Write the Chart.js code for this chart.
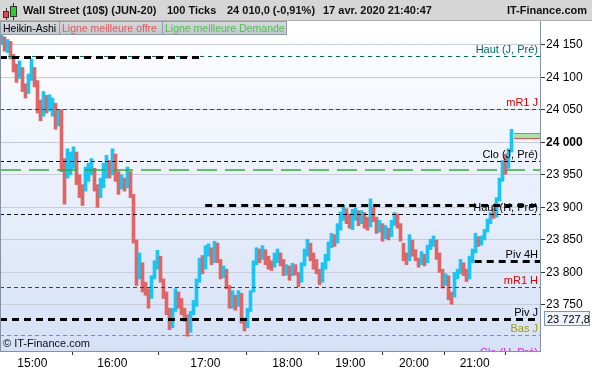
<!DOCTYPE html>
<html><head><meta charset="utf-8">
<script src="https://cdn.jsdelivr.net/npm/chart.js@4.4.1/dist/chart.umd.min.js"></script>
<style>
html,body{margin:0;padding:0;background:#fff;}
#wrap{position:relative;width:592px;height:370px;overflow:hidden;font-family:"Liberation Sans",Arial,sans-serif;}
#c{position:absolute;left:0;top:0;}
#hdr{position:absolute;left:0;top:0;width:592px;height:21px;background:#d6d6d6;border-bottom:1px solid #b4b4b4;box-sizing:border-box;font-weight:bold;font-size:11px;color:#111;}
#hdr span{position:absolute;top:4px;white-space:nowrap;line-height:13px;}
.leg{position:absolute;top:21px;height:14px;box-sizing:border-box;border:1px solid #8e9cab;background:linear-gradient(#d3d7db,#c3c8ce);font-size:10.5px;line-height:12px;padding-left:2px;white-space:nowrap;overflow:hidden;}
.cd{position:absolute;box-sizing:border-box;border:1px solid #333;}
.wk{position:absolute;width:1px;background:#333;}
#copy{position:absolute;left:3px;top:337px;font-size:11px;line-height:13px;color:#111;white-space:nowrap;}
</style></head>
<body>
<div id="wrap">
<canvas id="c" width="592" height="370"></canvas>
<div id="hdr">
  <div class="wk" style="left:6px;top:8px;height:12px"></div>
  <div class="cd" style="left:3px;top:11px;width:6px;height:7px;background:#e84848"></div>
  <div class="wk" style="left:13px;top:3px;height:17px"></div>
  <div class="cd" style="left:10px;top:6px;width:7px;height:11px;background:#2ed02e"></div>
  <span style="left:23px">Wall Street (10$) (JUN-20)</span>
  <span style="left:167px">100 Ticks</span>
  <span style="left:227px">24 010,0 (-0,91%)</span>
  <span style="left:323px">17 avr. 2020 21:40:47</span>
  <span style="right:5px">IT-Finance.com</span>
</div>
<div class="leg" style="left:0;width:60px;color:#000">Heikin-Ashi</div>
<div class="leg" style="left:59px;width:104px;color:#e05a5a">Ligne meilleure offre</div>
<div class="leg" style="left:162px;width:125px;color:#4cc44c">Ligne meilleure Demande</div>
<div id="copy">© IT-Finance.com</div>
</div>
<script>
// ---- data ----
const candleOpen = [
 24150,24162,24138,24155,24135,24120,24098,24115,24090,24075,
 24095,24115,24095,24065,24040,24072,24048,24040,24060,24025,
 24050,23975,23945,23950,23960,23985,23950,23935,23925,23940,
 23950,23960,23935,23915,23930,23945,23972,23950,23982,23955,
 23928,23945,23930,23955,23920,23850,23790,23815,23785,23775,
 23760,23790,23805,23825,23790,23770,23745,23715,23740,23770,
 23760,23745,23735,23708,23735,23748,23785,23826,23805,23825,
 23838,23815,23845,23820,23792,23805,23780,23745,23765,23748,
 23768,23730,23715,23740,23770,23812,23836,23820,23835,23825,
 23818,23808,23815,23830,23820,23796,23810,23795,23812,23800,
 23785,23810,23825,23845,23830,23820,23805,23785,23805,23818,
 23838,23858,23845,23865,23880,23898,23890,23866,23880,23895,
 23875,23892,23885,23870,23900,23885,23862,23875,23852,23868,
 23855,23872,23890,23875,23845,23830,23818,23850,23835,23822,
 23812,23828,23815,23835,23840,23850,23830,23805,23780,23795,
 23770,23762,23790,23798,23815,23805,23790,23815,23830,23855,
 23842,23850,23862,23875,23898,23885,23910,23940,23982,23960,23985];
const candleClose = [
 24165,24140,24158,24128,24108,24092,24125,24078,24068,24105,
 24128,24085,24045,24033,24078,24045,24073,24068,24020,24050,
 23955,23905,23990,23985,23993,23935,23915,23903,23962,23968,
 23975,23925,23900,23945,23968,23980,23945,23990,23940,23920,
 23950,23925,23962,23915,23845,23780,23830,23770,23765,23745,
 23795,23818,23834,23785,23760,23735,23712,23745,23775,23745,
 23735,23725,23702,23740,23757,23790,23822,23798,23841,23844,
 23812,23848,23815,23790,23810,23775,23745,23772,23742,23772,
 23722,23710,23745,23772,23818,23838,23815,23841,23812,23805,
 23803,23830,23836,23810,23795,23812,23788,23814,23796,23778,
 23815,23836,23851,23818,23805,23798,23781,23815,23828,23847,
 23860,23840,23875,23893,23903,23875,23868,23897,23899,23872,
 23895,23868,23865,23913,23878,23860,23880,23848,23872,23850,
 23880,23892,23868,23848,23818,23812,23858,23825,23818,23808,
 23832,23810,23842,23851,23856,23820,23800,23776,23798,23758,
 23751,23800,23805,23820,23795,23786,23825,23836,23860,23840,
 23856,23866,23882,23892,23883,23915,23945,23972,23951,23990,24020];
const hourTickIndex = [10.77, 37.43, 68.43, 95.77, 116.77, 138.0, 158.23];
const hourTickLabels = ['15:00','16:00','17:00','18:00','19:00','20:00','21:00'];
const priceTicks = [23750,23800,23850,23900,23950,24000,24050,24100,24150];
const levelNames  = ['Haut (J, Pré)','mR1 J','Clo (J, Pré)','Haut (H, Pré)','Piv 4H','mR1 H','Piv J','Bas J','Clo (H, Pré)'];
const levelValues = [24132.6, 24050.7, 23970.8, 23889.8, 23817.6, 23777.7, 23727.8, 23703.9, 23667];
const levelStartIndex = [0, 0, 0, 0, 158.23, 0, 0, 0, 0];
const pivHValues = [24130.6, 23903.2];
const pivHStartIndex = [0, 68.4];
const pivHEndIndex = [66.7, 180];
const demandLevel = 23957;
const bestOffer = 24006;
const bestDemand = 24013.8;
const markedValue = 23727.8;
const Y_MIN = 23679.3, Y_MAX = 24186.4, X_MAX = 180;

// ---- styles ----
const FONT = '"Liberation Sans", Arial, sans-serif';
const UP = '#17c6f4', DOWN = '#e06666';
const LEVEL_STYLE = {
  'Haut (J, Pré)': {c:'#00706c', w:1, d:[4,4], t:'#006a66'},
  'mR1 J':         {c:'#e00000', w:1, d:[4,3], t:'#e00000'},
  'Clo (J, Pré)':  {c:'#000000', w:1, d:[4,3], t:'#000000'},
  'Haut (H, Pré)': {c:'#000000', w:1, d:[4,3], t:'#000000'},
  'Piv 4H':        {c:'#000000', w:3, d:[7,5], t:'#000000'},
  'mR1 H':         {c:'#e00000', w:1, d:[4,3], t:'#e00000'},
  'Piv J':         {c:'#000000', w:3, d:[7,5], t:'#000000'},
  'Bas J':         {c:'#a09c10', w:1, d:[4,3], t:'#a09c10'},
  'Clo (H, Pré)':  {c:'#e020e0', w:1, d:[4,3], t:'#e020e0'}
};
const PIVH_STYLE = {c:'#000000', w:3, d:[7,5]};
const DEMAND_STYLE = {c:'#2fb02f', w:1.5, d:[20,8], o:-1};

const fmt = v => { const s = Math.round(v).toString(); return s.slice(0, s.length-3) + ' ' + s.slice(-3); };

const bgPlugin = {
  id:'bg',
  beforeDraw(chart){
    const {ctx, chartArea:a} = chart;
    ctx.save();
    ctx.fillStyle = '#ffffff';
    ctx.fillRect(0,0,chart.width,chart.height);
    const g = ctx.createLinearGradient(0,a.top,0,a.bottom);
    g.addColorStop(0,'#ffffff');
    g.addColorStop(1,'#d5e1f7');
    ctx.fillStyle = g;
    ctx.fillRect(a.left,a.top,a.right-a.left,a.bottom-a.top);
    ctx.restore();
  }
};

const levelPlugin = {
  id:'levels',
  afterDatasetsDraw(chart){
    const {ctx, chartArea:a, scales:{x,y}} = chart;
    ctx.save();
    ctx.beginPath(); ctx.rect(a.left,a.top,a.right-a.left,a.bottom-a.top); ctx.clip();
    const line = (v,x0,x1,st) => {
      const py = Math.round(y.getPixelForValue(v)) + ((st.w % 2 === 1) ? 0.5 : 0);
      ctx.strokeStyle = st.c; ctx.lineWidth = st.w; ctx.setLineDash(st.d); ctx.lineDashOffset = st.o || 0;
      ctx.beginPath(); ctx.moveTo(x0,py); ctx.lineTo(x1,py); ctx.stroke();
      return py;
    };
    levelNames.forEach((n,i) => {
      const st = LEVEL_STYLE[n];
      line(levelValues[i], x.getPixelForValue(levelStartIndex[i]), a.right, st);
    });
    pivHValues.forEach((v,i) => line(v, x.getPixelForValue(pivHStartIndex[i]), x.getPixelForValue(pivHEndIndex[i]), PIVH_STYLE));
    line(demandLevel, a.left, a.right, DEMAND_STYLE);
    // best bid / offer box
    ctx.setLineDash([]);
    const bx = x.getPixelForValue(candleOpen.length) + 1;
    const yt = Math.round(y.getPixelForValue(bestDemand));
    const yb = Math.round(y.getPixelForValue(bestOffer));
    ctx.fillStyle = '#a6e4a6'; ctx.fillRect(bx, yt, a.right-bx, yb-yt);
    ctx.strokeStyle = '#48c048'; ctx.lineWidth = 1;
    ctx.beginPath(); ctx.moveTo(bx,yt+0.5); ctx.lineTo(a.right,yt+0.5); ctx.stroke();
    ctx.strokeStyle = '#e05050';
    ctx.beginPath(); ctx.moveTo(bx,yb+0.5); ctx.lineTo(a.right,yb+0.5); ctx.stroke();
    // labels
    ctx.font = '11px ' + FONT;
    ctx.textAlign = 'right'; ctx.textBaseline = 'alphabetic';
    levelNames.forEach((n,i) => {
      const py = y.getPixelForValue(levelValues[i]);
      ctx.fillStyle = LEVEL_STYLE[n].t;
      ctx.fillText(n, a.right - 2, py - 3);
    });
    ctx.restore();
    ctx.save();
    ctx.strokeStyle = '#8393a3'; ctx.lineWidth = 1;
    ctx.beginPath(); ctx.moveTo(a.left+0.5,a.top); ctx.lineTo(a.left+0.5,a.bottom); ctx.stroke();
    ctx.restore();
  },
  afterDraw(chart){
    const {ctx, scales:{y}, chartArea:a} = chart;
    const py = Math.round(y.getPixelForValue(markedValue));
    ctx.save();
    ctx.fillStyle = '#eef2fb'; ctx.strokeStyle = '#7f96ae'; ctx.lineWidth = 1;
    ctx.fillRect(a.right+4.5, py-7.5, 45, 14);
    ctx.strokeRect(a.right+4.5, py-7.5, 45, 14);
    ctx.fillStyle = '#000'; ctx.font = '11px ' + FONT;
    ctx.textAlign = 'left'; ctx.textBaseline = 'middle';
    ctx.fillText(fmt(Math.floor(markedValue)) + ',' + Math.round((markedValue % 1) * 10), a.right + 7, py + 0.5);
    ctx.restore();
  }
};

new Chart(document.getElementById('c'), {
  type:'bar',
  data:{datasets:[{
    data: candleOpen.map((o,i) => ({x: i + 0.5, y: [o, candleClose[i]]})),
    backgroundColor: candleOpen.map((o,i) => candleClose[i] >= o ? UP : DOWN),
    barThickness: 3, borderWidth: 0, grouped: false
  }]},
  options:{
    responsive:false, animation:false, devicePixelRatio:1,
    layout:{padding:{top:21,left:0,right:0,bottom:0}},
    plugins:{legend:{display:false}, tooltip:{enabled:false}},
    scales:{
      x:{
        type:'linear', min:0, max:X_MAX, offset:false,
        afterBuildTicks: s => { s.ticks = hourTickIndex.map(v => ({value:v})); },
        afterFit: s => { s.height = 19; },
        ticks:{autoSkip:false, maxRotation:0, padding:1, color:'#000', font:{family:FONT, size:12},
          callback:(v,i) => hourTickLabels[i]},
        grid:{drawOnChartArea:false, tickLength:4, tickColor:'#333'},
        border:{color:'#8393a3'}
      },
      y:{
        position:'right', min:Y_MIN, max:Y_MAX,
        afterBuildTicks: s => { s.ticks = priceTicks.map(v => ({value:v})); },
        afterFit: s => { s.width = 52; },
        ticks:{padding:1, color:'#000',
          font: c => ({family:FONT, size:12, weight: (c.tick && c.tick.value === 24000) ? 'bold' : 'normal'}),
          callback: v => fmt(v)},
        grid:{color:'#c9ccda', tickLength:5, tickColor:'#333'},
        border:{color:'#8393a3'}
      }
    }
  },
  plugins:[bgPlugin, levelPlugin]
});
</script>
</body></html>
